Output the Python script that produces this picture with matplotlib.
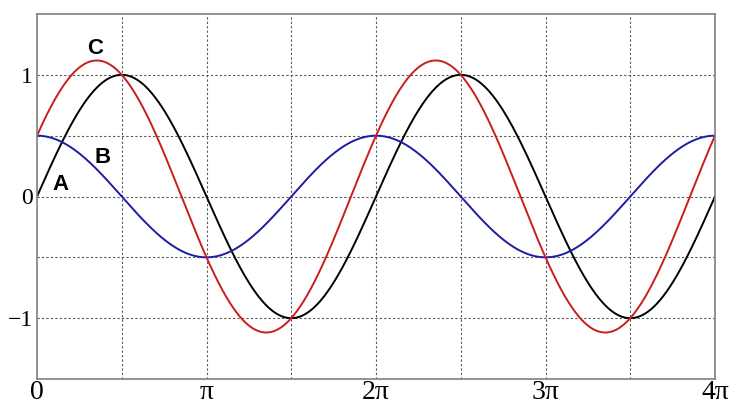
import numpy as np
import matplotlib
matplotlib.use('Agg')
import matplotlib.pyplot as plt

# wave A = amp_a*sin(x), wave B = amp_b*cos(x), C = A + B
amp_a = 1.0
amp_b = 0.5
x_max = 4 * np.pi

x_ticks = [0, np.pi, 2 * np.pi, 3 * np.pi, 4 * np.pi]
x_tick_labels = ['0', 'π', '2π', '3π', '4π']
y_ticks = [-1, 0, 1]
y_tick_labels = ['−1', '0', '1']

x = np.linspace(0, x_max, 800)
wave_a = amp_a * np.sin(x)
wave_b = amp_b * np.cos(x)
wave_c = wave_a + wave_b

fig = plt.figure(figsize=(7.34, 4.12), dpi=100)
ax = fig.add_axes([37 / 734, 33 / 412, 678 / 734, 365 / 412])

ax.plot(x, wave_a, color='black', lw=1.4)
ax.plot(x, wave_b, color='#1c1ca8', lw=1.4)
ax.plot(x, wave_c, color='#c81e1e', lw=1.4)

ax.set_xlim(0, x_max)
ax.set_ylim(-1.5, 1.5)

# dotted grid every pi/2 and every 0.5
for gx in np.arange(1, 8) * np.pi / 2:
    ax.axvline(gx, color='#555555', lw=0.8, ls=(0, (2, 2)), zorder=0)
for gy in [-1, -0.5, 0, 0.5, 1]:
    ax.axhline(gy, color='#555555', lw=0.8, ls=(0, (2, 2)), zorder=0)

ax.set_xticks(x_ticks)
ax.set_xticklabels(x_tick_labels, family='Liberation Serif', fontsize=20)
ax.set_yticks(y_ticks)
ax.set_yticklabels(y_tick_labels, family='Liberation Serif', fontsize=17)
ax.tick_params(length=0)
ax.tick_params(axis='x', pad=1)
ax.tick_params(axis='y', pad=3)

for s in ax.spines.values():
    s.set_color('#808080')
    s.set_linewidth(1.2)

label_font = dict(fontsize=16, fontweight='bold', family='Liberation Sans',
                  ha='center', va='center')
ax.text(0.136 * np.pi, 0.095, 'A', **label_font)
ax.text(0.389 * np.pi, 0.317, 'B', **label_font)
ax.text(0.342 * np.pi, 1.22, 'C', **label_font)

fig.savefig('out.png', dpi=100)
